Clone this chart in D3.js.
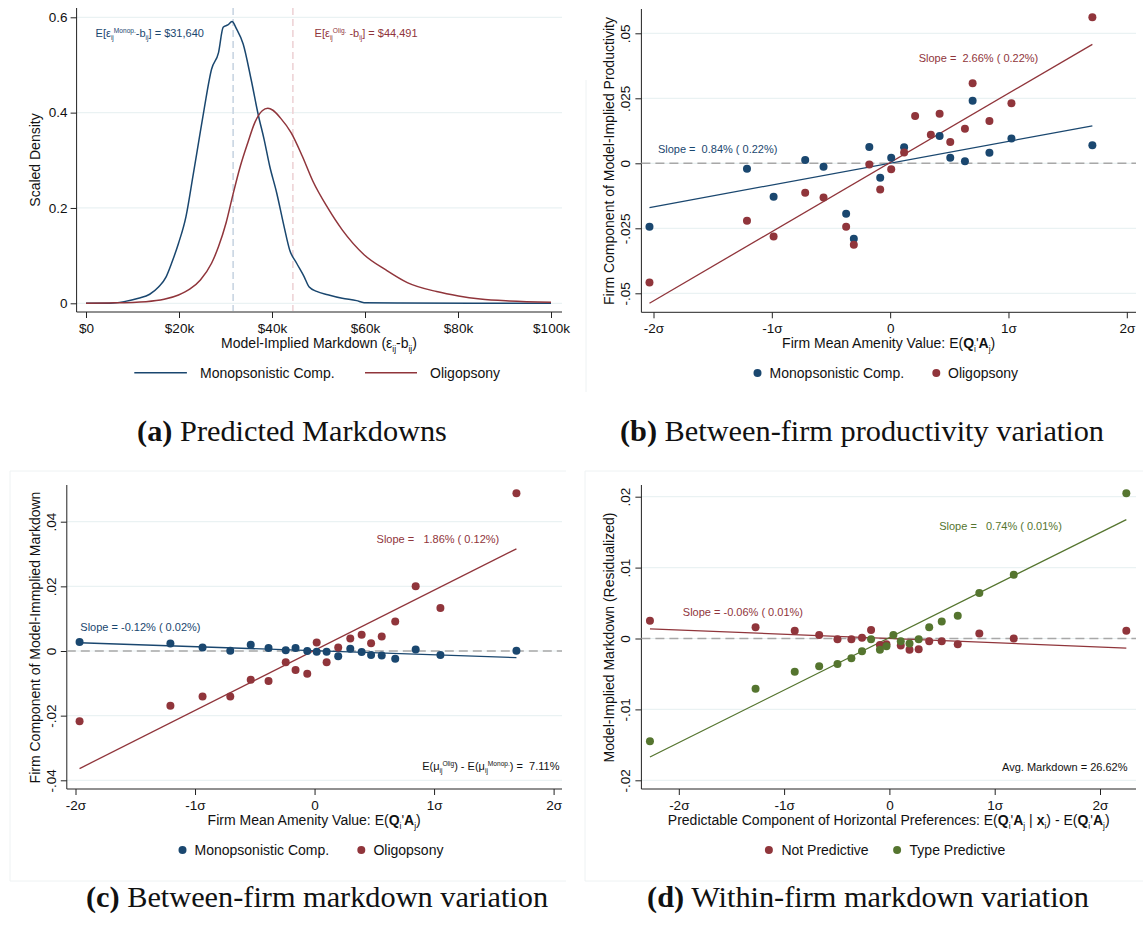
<!DOCTYPE html>
<html><head><meta charset="utf-8">
<script src="https://cdn.jsdelivr.net/npm/d3@7"></script>
<style>body{margin:0;background:#fff}svg{display:block}text{white-space:pre}</style>
</head><body>
<svg id="c" width="1143" height="926"></svg>
<script>
// ---------- DATA ----------
// Panel (a): scaled densities of model-implied markdown ($ thousands)
const monopDensityX = [0,5.1,8.2,11.3,13.7,15.6,17.2,18.4,19.9,21.5,23,24.2,25.4,27,28.5,29.5,30.5,31.4,32.4,33.8,35.5,37.1,38.3,39.5,41,42.6,43.8,45.3,46.9,48,49.6,52,55.1,58.2,59.8,67.6,83.2,100];
const monopDensityY = [0,0,0.0035,0.0105,0.019,0.034,0.055,0.084,0.126,0.182,0.267,0.337,0.407,0.491,0.526,0.579,0.584,0.591,0.575,0.544,0.470,0.393,0.344,0.288,0.232,0.161,0.112,0.084,0.056,0.034,0.025,0.018,0.0105,0.0056,0.0014,0.0007,0.0003,0.0002];
const oligDensityX = [0,5,12.9,16.8,19.9,22.3,24.6,27,28.5,30.1,31.6,33.2,34.8,36.3,37.9,39.1,40.2,41.8,44.1,46.5,48.8,52,55.1,59.8,64.5,69.1,75.4,80.1,84.8,91,100];
const oligDensityY = [0,0.0007,0.0035,0.0084,0.0175,0.0295,0.049,0.084,0.119,0.168,0.228,0.288,0.337,0.379,0.404,0.409,0.405,0.389,0.358,0.309,0.256,0.2,0.154,0.102,0.070,0.0435,0.0246,0.0154,0.0091,0.0049,0.0021];
const meanMarkdownK = [31.640, 44.491];
const dollarTicks = [0,20,40,60,80,100];
const dollarTickLabels = ["$0","$20k","$40k","$60k","$80k","$100k"];
const densityTicks = [0,0.2,0.4,0.6];
const densityTickLabels = ["0","0.2","0.4","0.6"];

// Shared sigma axis
const sigmaTicks = [-2,-1,0,1,2];
const sigmaTickLabels = ["-2σ","-1σ","0","1σ","2σ"];

// Panel (b): firm component of productivity
const bMonopX = [-2.034,-1.21,-0.985,-0.718,-0.563,-0.372,-0.307,-0.176,-0.084,0.009,0.118,0.418,0.508,0.632,0.697,0.839,1.025,1.709];
const bMonopY = [-0.0244,-0.0021,-0.0129,0.0013,-0.0013,-0.0194,-0.029,0.0063,-0.0056,0.0021,0.0062,0.0105,0.0021,0.0008,0.0241,0.0041,0.0095,0.0069];
const bOligX = [-2.034,-1.21,-0.985,-0.718,-0.563,-0.372,-0.307,-0.176,-0.084,0.009,0.118,0.211,0.344,0.418,0.508,0.632,0.697,0.839,1.025,1.709];
const bOligY = [-0.0458,-0.0221,-0.0282,-0.0113,-0.0132,-0.0244,-0.0313,-0.0005,-0.0101,-0.0023,0.0042,0.0182,0.011,0.0191,0.0082,0.0133,0.0308,0.0163,0.0231,0.0562];
const bFitSlope = [0.0084, 0.0266];
const bFitIntercept = [0.00006, 0.0003];
const bYTicks = [-0.05,-0.025,0,0.025,0.05];
const bYTickLabels = ["-.05","-.025","0",".025",".05"];

// Panel (c): firm component of markdown
const cX = [-1.966,-1.206,-0.937,-0.705,-0.534,-0.385,-0.241,-0.159,-0.061,0.018,0.101,0.198,0.299,0.394,0.473,0.562,0.675,0.846,1.053,1.689];
const cMonopY = [0.0028,0.0023,0.0011,0.0001,0.0019,0.0009,0.0002,0.0009,0,-0.0002,-0.0002,-0.0016,0.0007,-0.0003,-0.0012,-0.0014,-0.0024,0.0005,-0.0012,0.0001];
const cOligY = [-0.0217,-0.0169,-0.0141,-0.0141,-0.0089,-0.0093,-0.0035,-0.0059,-0.0070,0.0026,-0.0035,0.0011,0.0039,0.0050,0.0024,0.0045,0.0091,0.0200,0.0133,0.0488];
const cFitSlope = [-0.00126, 0.0186];
const cFitIntercept = [0.00008, 0.0002];
const cYTicks = [-0.04,-0.02,0,0.02,0.04];
const cYTickLabels = ["-.04","-.02","0",".02",".04"];

// Panel (d): within-firm markdown
const dNotX = [-2.274,-1.271,-0.899,-0.667,-0.493,-0.361,-0.26,-0.174,-0.09,-0.028,0.108,0.191,0.278,0.378,0.497,0.649,0.854,1.181,2.25];
const dNotY = [0.0025,0.0016,0.0011,0.0005,-0.0001,-0.0001,0.0001,0.0012,-0.0009,-0.0008,-0.001,-0.0016,-0.0015,-0.0004,-0.0004,-0.0008,0.0007,0,0.0011];
const dTypeX = [-2.274,-1.271,-0.899,-0.667,-0.493,-0.361,-0.26,-0.174,-0.09,-0.028,0.038,0.108,0.191,0.278,0.378,0.497,0.649,0.854,1.181,2.25];
const dTypeY = [-0.0145,-0.0071,-0.0047,-0.0039,-0.0036,-0.0028,-0.0018,-0.0001,-0.0016,-0.0011,0.0005,-0.0004,-0.0007,-0.0001,0.0016,0.0024,0.0032,0.0064,0.009,0.0205];
const dFitSlope = [-0.0006, 0.0074];
const dFitIntercept = [0, 0.00012];
const dYTicks = [-0.02,-0.01,0,0.01,0.02];
const dYTickLabels = ["-.02","-.01","0",".01",".02"];

// ---------- STYLE ----------
const NAVY = "#1a476f", MAROON = "#90353b", GREEN = "#55752f";
const GRID = "#eaf2f3", AXIS = "#222";
const FONT = "'Liberation Sans', Arial, Helvetica, sans-serif";
const svg = d3.select("#c");
svg.append("rect").attr("width",1143).attr("height",926).attr("fill","#fff");

// faint panel image borders
const borderG = svg.append("g").attr("stroke","#eef2f3").attr("fill","none");
borderG.append("line").attr("x1",586).attr("x2",586).attr("y1",80).attr("y2",392);
borderG.append("path").attr("d","M10,881 V471 H566");
borderG.append("path").attr("d","M585,881 V471 H1143");
borderG.append("line").attr("x1",10).attr("x2",566).attr("y1",881).attr("y2",881);
borderG.append("line").attr("x1",585).attr("x2",1143).attr("y1",881).attr("y2",881);

function rich(sel, segs, size){
  let shift = 0;
  segs.forEach(([t,s]) => {
    const target = s==="sub" ? size*0.3 : (s==="sup" ? -size*0.38 : 0);
    const ts = sel.append("tspan").text(t);
    if (target - shift !== 0) ts.attr("dy", target - shift);
    shift = target;
    if (s==="sub"||s==="sup") ts.attr("font-size", size*0.6);
    if (s==="b") ts.attr("font-weight","bold");
  });
  if (shift !== 0) sel.append("tspan").text("\u200b").attr("dy", -shift);
}

function frameAxes(g, x, y, f, xT, xL, yT, yL, rotY){
  // grid
  g.append("g").selectAll("line").data(yT).join("line")
    .attr("x1", f.left).attr("x2", f.right)
    .attr("y1", d=>y(d)).attr("y2", d=>y(d))
    .attr("stroke", GRID).attr("stroke-width", 1.2);
  // x axis
  const xa = g.append("g").attr("transform", `translate(0,${f.bottom})`)
    .call(d3.axisBottom(x).tickValues(xT).tickFormat((d,i)=>xL[i]).tickSize(6).tickPadding(5));
  xa.select(".domain").remove();
  xa.selectAll("text").attr("font-family",FONT).attr("font-size",13.5).attr("fill","#111");
  xa.selectAll("line").attr("stroke",AXIS);
  // y axis
  const ya = g.append("g").attr("transform", `translate(${f.left},0)`)
    .call(d3.axisLeft(y).tickValues(yT).tickFormat((d,i)=>yL[i]).tickSize(6).tickPadding(3));
  ya.select(".domain").remove();
  ya.selectAll("line").attr("stroke",AXIS);
  ya.selectAll("text").attr("font-family",FONT).attr("font-size",13.5).attr("fill","#111");
  if (rotY) {
    ya.selectAll("text").attr("transform","rotate(-90)").attr("text-anchor","middle")
      .attr("x",0).attr("y",-11).attr("dy",0);
  }
  g.append("line").attr("x1",f.left).attr("x2",f.left).attr("y1",f.top).attr("y2",f.bottom).attr("stroke",AXIS).attr("stroke-width",1);
  g.append("line").attr("x1",f.left).attr("x2",f.right).attr("y1",f.bottom).attr("y2",f.bottom).attr("stroke",AXIS).attr("stroke-width",1);
}

function yTitle(g, cx, cy, txt){
  g.append("text").attr("transform",`translate(${cx+5},${cy}) rotate(-90)`)
    .attr("text-anchor","middle").attr("font-family",FONT).attr("font-size",14).attr("fill","#111").text(txt);
}
function xTitle(g, cx, by, segs){
  const t = g.append("text").attr("x",cx).attr("y",by).attr("text-anchor","middle")
    .attr("font-family",FONT).attr("font-size",14).attr("fill","#111");
  rich(t, segs, 14);
}
function note(g, x, y, anchor, color, segs){
  const t = g.append("text").attr("x",x).attr("y",y).attr("text-anchor",anchor)
    .attr("font-family",FONT).attr("font-size",11).attr("fill",color);
  rich(t, segs, 11);
}

// ---------- PANEL (a) ----------
{
  const f = {left:76.6, right:562, top:8, bottom:312};
  const g = svg.append("g");
  const x = d3.scaleLinear().domain([0,100]).range([86,551]);
  const y = d3.scaleLinear().domain([0,0.6]).range([303.3,17.3]);
  frameAxes(g, x, y, f, dollarTicks, dollarTickLabels, densityTicks, densityTickLabels, false);
  const meanCols = ["#c9d5e2","#eed3d6"];
  g.append("g").selectAll("line").data(meanMarkdownK).join("line")
    .attr("x1",d=>x(d)).attr("x2",d=>x(d)).attr("y1",f.top).attr("y2",f.bottom-1)
    .attr("stroke",(d,i)=>meanCols[i]).attr("stroke-width",1.6).attr("stroke-dasharray","7,4");
  const line = d3.line().x(d=>x(d[0])).y(d=>y(d[1])).curve(d3.curveMonotoneX);
  g.append("path").datum(monopDensityX.map((v,i)=>[v,monopDensityY[i]])).attr("d",line)
    .attr("fill","none").attr("stroke",NAVY).attr("stroke-width",1.5);
  g.append("path").datum(oligDensityX.map((v,i)=>[v,oligDensityY[i]])).attr("d",line)
    .attr("fill","none").attr("stroke",MAROON).attr("stroke-width",1.5);
  note(g, 95.6, 37, "start", NAVY, [["E[ε",""],["ij","sub"],["Monop.","sup"],["-b",""],["ij","sub"],["] = $31,640",""]]);
  note(g, 314.6, 37, "start", MAROON, [["E[ε",""],["ij","sub"],["Olig.","sup"],[" -b",""],["ij","sub"],["] = $44,491",""]]);
  yTitle(g, 34.7, 160, "Scaled Density");
  xTitle(g, 319, 348, [["Model-Implied Markdown (ε",""],["ij","sub"],["-b",""],["ij","sub"],[")",""]]);
  // legend
  const lg = g.append("g");
  lg.append("line").attr("x1",134.3).attr("x2",186.9).attr("y1",372.7).attr("y2",372.7).attr("stroke",NAVY).attr("stroke-width",1.5);
  lg.append("text").attr("x",200).attr("y",377.7).attr("font-family",FONT).attr("font-size",14).attr("fill","#111").text("Monopsonistic Comp.");
  lg.append("line").attr("x1",365).attr("x2",417).attr("y1",372.7).attr("y2",372.7).attr("stroke",MAROON).attr("stroke-width",1.5);
  lg.append("text").attr("x",430).attr("y",377.7).attr("font-family",FONT).attr("font-size",14).attr("fill","#111").text("Oligopsony");
}

// ---------- generic scatter panel ----------
function scatterPanel(p){
  const g = svg.append("g");
  const f = p.frame;
  const x = d3.scaleLinear().domain([-2,2]).range(p.xRange);
  const y = d3.scaleLinear().domain([p.yTicks[0], p.yTicks[4]]).range(p.yRange);
  frameAxes(g, x, y, f, sigmaTicks, sigmaTickLabels, p.yTicks, p.yLabels, true);
  g.append("line").attr("x1",f.left).attr("x2",f.right).attr("y1",y(0)).attr("y2",y(0))
    .attr("stroke","#a8a8a8").attr("stroke-width",1.4).attr("stroke-dasharray","9,5");
  p.series.forEach(s => {
    const ext = d3.extent(s.x);
    g.append("line").attr("x1",x(ext[0])).attr("x2",x(ext[1]))
      .attr("y1",y(s.b + s.m*ext[0])).attr("y2",y(s.b + s.m*ext[1]))
      .attr("stroke",s.color).attr("stroke-width",1.3);
  });
  p.series.forEach(s => {
    g.append("g").selectAll("circle").data(s.x.map((v,i)=>[v,s.y[i]])).join("circle")
      .attr("cx",d=>x(d[0])).attr("cy",d=>y(d[1])).attr("r",4).attr("fill",s.color);
  });
  p.notes.forEach(n => note(g, n.x, n.y, n.anchor, n.color, n.segs));
  yTitle(g, p.yTitle[0], p.yTitle[1], p.yTitle[2]);
  xTitle(g, p.xTitle[0], p.xTitle[1], p.xTitle[2]);
  p.series.forEach(s => {
    g.append("circle").attr("cx",s.legend[0]).attr("cy",s.legend[2]-5).attr("r",4).attr("fill",s.color);
    g.append("text").attr("x",s.legend[1]).attr("y",s.legend[2]).attr("font-family",FONT)
      .attr("font-size",14).attr("fill","#111").text(s.name);
  });
}

const amenityTitle = [["Firm Mean Amenity Value: E(",""],["Q","b"],["i","sub"],["'",""],["A","b"],["j","sub"],[")",""]];

scatterPanel({
  frame:{left:641.4, right:1136, top:9, bottom:312.3},
  xRange:[653.5,1126.8], yTicks:bYTicks, yLabels:bYTickLabels, yRange:[293.3,33.3],
  series:[
    {name:"Monopsonistic Comp.", x:bMonopX, y:bMonopY, m:bFitSlope[0], b:bFitIntercept[0], color:NAVY, legend:[757.5,769.6,378]},
    {name:"Oligopsony", x:bOligX, y:bOligY, m:bFitSlope[1], b:bFitIntercept[1], color:MAROON, legend:[936.3,948,378]}
  ],
  notes:[
    {x:918.7, y:62, anchor:"start", color:MAROON, segs:[["Slope =  2.66% ( 0.22%)",""]]},
    {x:657.9, y:153, anchor:"start", color:NAVY, segs:[["Slope =  0.84% ( 0.22%)",""]]}
  ],
  yTitle:[608.5,161,"Firm Component of Model-Implied Productivity"],
  xTitle:[888.7,348,amenityTitle]
});

scatterPanel({
  frame:{left:66.8, right:562, top:485, bottom:789},
  xRange:[75.5,553.6], yTicks:cYTicks, yLabels:cYTickLabels, yRange:[780.3,521.7],
  series:[
    {name:"Monopsonistic Comp.", x:cX, y:cMonopY, m:cFitSlope[0], b:cFitIntercept[0], color:NAVY, legend:[182.5,194.5,855]},
    {name:"Oligopsony", x:cX, y:cOligY, m:cFitSlope[1], b:cFitIntercept[1], color:MAROON, legend:[361.3,373.4,855]}
  ],
  notes:[
    {x:376.6, y:543, anchor:"start", color:MAROON, segs:[["Slope =   1.86% ( 0.12%)",""]]},
    {x:80.3, y:630.7, anchor:"start", color:NAVY, segs:[["Slope = -0.12% ( 0.02%)",""]]},
    {x:559.5, y:769.7, anchor:"end", color:"#111", segs:[["E(μ",""],["ij","sub"],["Olig","sup"],[") - E(μ",""],["ij","sub"],["Monop.","sup"],[") =  7.11%",""]]}
  ],
  yTitle:[34.7,637.5,"Firm Component of Model-Immplied Markdown"],
  xTitle:[314.2,825,amenityTitle]
});

scatterPanel({
  frame:{left:641.4, right:1136, top:485, bottom:789},
  xRange:[678.8,1100], yTicks:dYTicks, yLabels:dYTickLabels, yRange:[780.3,496.7],
  series:[
    {name:"Not Predictive", x:dNotX, y:dNotY, m:dFitSlope[0], b:dFitIntercept[0], color:MAROON, legend:[768.9,781.4,855]},
    {name:"Type Predictive", x:dTypeX, y:dTypeY, m:dFitSlope[1], b:dFitIntercept[1], color:GREEN, legend:[897.1,909.6,855]}
  ],
  notes:[
    {x:939.2, y:530, anchor:"start", color:GREEN, segs:[["Slope =   0.74% ( 0.01%)",""]]},
    {x:682.8, y:615.7, anchor:"start", color:MAROON, segs:[["Slope = -0.06% ( 0.01%)",""]]},
    {x:1127.5, y:770.7, anchor:"end", color:"#111", segs:[["Avg. Markdown = 26.62%",""]]}
  ],
  yTitle:[608.5,637.5,"Model-Implied Markdown (Residualized)"],
  xTitle:[888.7,825,[["Predictable Component of Horizontal Preferences: E(",""],["Q","b"],["i","sub"],["'",""],["A","b"],["j","sub"],[" | ",""],["x","b"],["i","sub"],[") - E(",""],["Q","b"],["i","sub"],["'",""],["A","b"],["j","sub"],[")",""]]]
});

// ---------- captions ----------
const captions = [
  {tag:"(a)", text:" Predicted Markdowns", cx:292, y:441},
  {tag:"(b)", text:" Between-firm productivity variation", cx:862, y:441},
  {tag:"(c)", text:" Between-firm markdown variation", cx:317, y:907},
  {tag:"(d)", text:" Within-firm markdown variation", cx:868, y:907}
];
const capSel = captions.map(c => {
  const t = svg.append("text").attr("x",c.cx).attr("y",c.y).attr("text-anchor","middle")
    .attr("font-family","'Liberation Serif','Times New Roman',serif").attr("font-size",28).attr("fill","#111");
  t.append("tspan").attr("font-weight","bold").text(c.tag);
  t.append("tspan").text(c.text);
  return t;
});
const wD = capSel[3].node().getComputedTextLength();
const wC = capSel[2].node().getComputedTextLength();
const fs = 28 * ((470 / wD) + (433 / wC)) / 2;
capSel.forEach(t => t.attr("font-size", fs));
</script>
</body></html>
